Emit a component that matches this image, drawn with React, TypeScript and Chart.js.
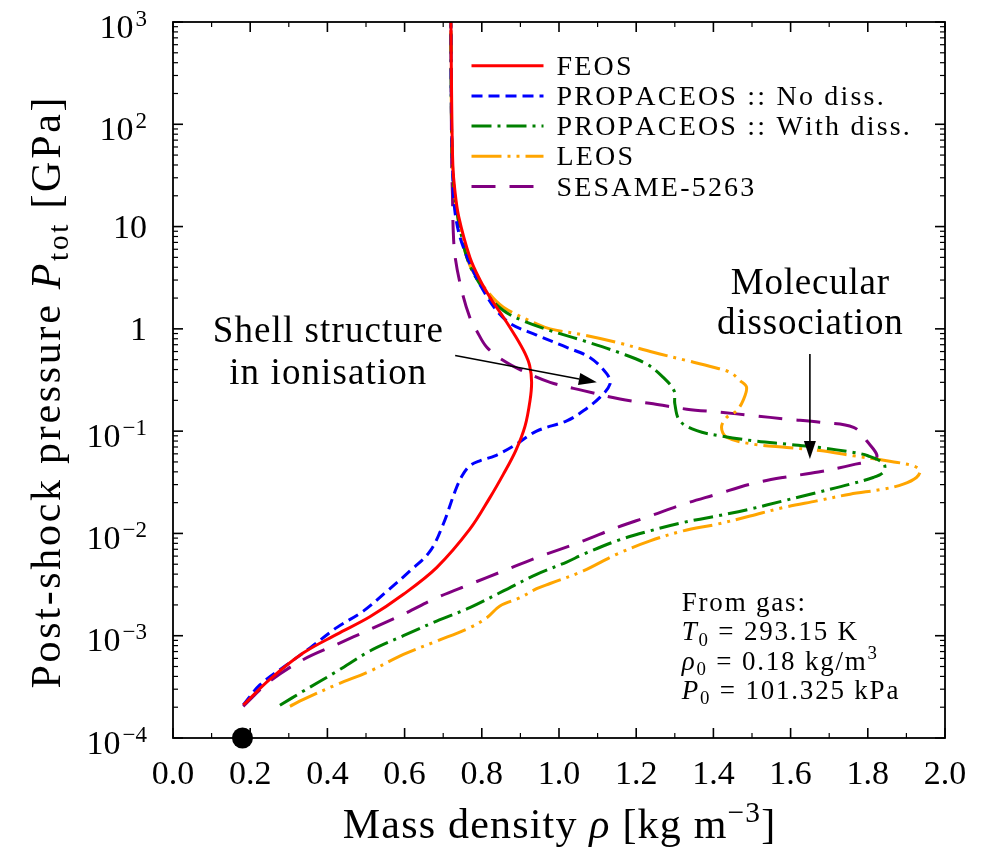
import React, { useEffect, useRef } from 'react';
import { Chart, registerables } from 'chart.js';

Chart.register(...registerables);

// ---------------- data ----------------
const seriesNames = ['FEOS', 'PROPACEOS :: No diss.', 'PROPACEOS :: With diss.', 'LEOS', 'SESAME-5263'];

// FEOS (red, solid)
const feosRho = [0.182, 0.25, 0.338, 0.424, 0.51, 0.597, 0.683, 0.769, 0.821, 0.856, 0.888, 0.912, 0.925, 0.929, 0.924, 0.912, 0.89, 0.856, 0.821, 0.795, 0.769, 0.74, 0.73, 0.725, 0.722, 0.72];
const feosP = [2.1e-4, 3.72e-4, 6.8e-4, 1.03e-3, 1.53e-3, 2.54e-3, 4.63e-3, 0.011, 0.0224, 0.038, 0.0646, 0.112, 0.2, 0.302, 0.437, 0.575, 0.813, 1.3, 2.04, 3.02, 5.01, 12.6, 22.9, 39.8, 158, 1000];

// PROPACEOS :: No diss. (blue, dashed)
const propNoRho = [0.182, 0.225, 0.295, 0.355, 0.424, 0.493, 0.553, 0.614, 0.666, 0.7, 0.731, 0.749, 0.769, 0.795, 0.834, 0.88, 0.942, 1.02, 1.063, 1.106, 1.132, 1.124, 1.08, 1.02, 0.942, 0.864, 0.804, 0.752, 0.731, 0.724, 0.721, 0.72];
const propNoP = [2.1e-4, 3.3e-4, 5.2e-4, 7.6e-4, 1.2e-3, 1.74e-3, 2.7e-3, 4.3e-3, 6.7e-3, 0.0123, 0.026, 0.0366, 0.0458, 0.0513, 0.0574, 0.0708, 0.1, 0.126, 0.158, 0.214, 0.288, 0.363, 0.525, 0.66, 0.87, 1.2, 2.37, 6.3, 13.5, 40, 160, 1000];

// PROPACEOS :: With diss. (green, dash-dot)
const propDisRho = [0.277, 0.338, 0.424, 0.51, 0.597, 0.683, 0.769, 0.856, 0.942, 1.02, 1.063, 1.149, 1.236, 1.322, 1.409, 1.495, 1.581, 1.668, 1.754, 1.814, 1.84, 1.842, 1.8, 1.763, 1.676, 1.59, 1.503, 1.417, 1.357, 1.313, 1.3, 1.298, 1.27, 1.227, 1.158, 1.063, 0.977, 0.9, 0.856, 0.813, 0.769, 0.745, 0.73, 0.724, 0.721, 0.72];
const propDisP = [2.09e-4, 2.88e-4, 4.47e-4, 7.08e-4, 1.0e-3, 1.39e-3, 1.88e-3, 2.74e-3, 3.98e-3, 5.25e-3, 6.25e-3, 8.45e-3, 0.0106, 0.0128, 0.0148, 0.0173, 0.0208, 0.0251, 0.0303, 0.0352, 0.0398, 0.0479, 0.0575, 0.0619, 0.0692, 0.0746, 0.0805, 0.0902, 0.101, 0.126, 0.185, 0.249, 0.336, 0.454, 0.582, 0.767, 0.962, 1.23, 1.51, 2.2, 4.17, 8.91, 20, 39.8, 158, 1000];

// LEOS (orange, dash-dot-dot)
const leosRho = [0.303, 0.338, 0.424, 0.51, 0.597, 0.683, 0.769, 0.813, 0.847, 0.899, 0.942, 0.977, 1.063, 1.149, 1.236, 1.322, 1.409, 1.495, 1.581, 1.668, 1.754, 1.84, 1.892, 1.926, 1.935, 1.918, 1.849, 1.763, 1.676, 1.59, 1.503, 1.434, 1.421, 1.434, 1.46, 1.477, 1.486, 1.469, 1.443, 1.4, 1.331, 1.244, 1.158, 1.063, 0.977, 0.942, 0.856, 0.813, 0.769, 0.745, 0.73, 0.724, 0.721, 0.72];
const leosP = [2.04e-4, 2.38e-4, 3.33e-4, 4.5e-4, 6.56e-4, 8.85e-4, 1.2e-3, 1.5e-3, 1.95e-3, 2.35e-3, 2.88e-3, 3.24e-3, 4.3e-3, 6.25e-3, 8.45e-3, 0.0106, 0.0123, 0.0148, 0.0179, 0.0208, 0.0242, 0.0271, 0.0303, 0.0352, 0.0409, 0.0458, 0.0513, 0.0574, 0.0646, 0.0692, 0.0746, 0.0871, 0.109, 0.136, 0.158, 0.2, 0.268, 0.312, 0.376, 0.421, 0.49, 0.59, 0.724, 0.871, 1.0, 1.12, 1.63, 2.37, 4.17, 8.91, 20, 39.8, 158, 1000];

// SESAME-5263 (purple, long dashes)
const sesameRho = [0.182, 0.251, 0.338, 0.424, 0.51, 0.597, 0.683, 0.769, 0.856, 0.942, 1.063, 1.149, 1.236, 1.322, 1.409, 1.495, 1.58, 1.672, 1.76, 1.823, 1.797, 1.763, 1.676, 1.59, 1.503, 1.417, 1.331, 1.244, 1.158, 1.063, 0.977, 0.9, 0.856, 0.813, 0.787, 0.769, 0.748, 0.731, 0.726, 0.724, 0.722, 0.721, 0.72];
const sesameP = [2.04e-4, 3.59e-4, 5.86e-4, 8.22e-4, 1.15e-3, 1.62e-3, 2.35e-3, 3.18e-3, 4.3e-3, 5.79e-3, 8.45e-3, 0.0114, 0.0148, 0.0193, 0.0242, 0.0303, 0.0352, 0.0398, 0.0468, 0.0553, 0.0805, 0.109, 0.122, 0.131, 0.142, 0.153, 0.164, 0.185, 0.206, 0.249, 0.3, 0.398, 0.49, 0.661, 0.955, 1.29, 2.37, 5.01, 9.12, 20.9, 39.8, 158, 1000];

// initial gas state (black dot)
const initialRho = [0.18];
const initialP = [1e-4];

// axes
const xMin = 0;
const xMax = 2;
const xTickStep = 0.2;
const yMin = 1e-4;
const yMax = 1e3;
const yTickValues = [1e-4, 1e-3, 1e-2, 1e-1, 1, 10, 100, 1000];
const yTickBase = ['10', '10', '10', '10', '1', '10', '10', '10'];
const yTickExp = ['−4', '−3', '−2', '−1', '', '', '2', '3'];

// annotations (data coordinates)
const shellLines = ['Shell structure', 'in ionisation'];
const shellTextAt = { x: 0.401, y: 0.74 };
const shellArrowFrom = { x: 0.731, y: 0.548 };
const shellArrowTo = { x: 1.098, y: 0.3 };
const dissLines = ['Molecular', 'dissociation'];
const dissTextAt = { x: 1.65, y: 2.2 };
const dissArrowFrom = { x: 1.65, y: 0.569 };
const dissArrowTo = { x: 1.65, y: 0.0533 };
const gasTextAt = { x: 1.318, y: 1.74e-3 };

// ---------------- styling ----------------
const SERIF = '"Liberation Serif", "Times New Roman", Times, serif';

type Part = { t: string; it?: boolean; sup?: boolean; sub?: boolean };

function drawRich(
  ctx: CanvasRenderingContext2D,
  parts: Part[],
  x: number,
  y: number,
  size: number,
  align: 'left' | 'center' | 'right',
  sp: number
) {
  const glyphs: { ch: string; font: string; dy: number; x: number }[] = [];
  let w = 0;
  for (const p of parts) {
    const s = p.sup || p.sub ? size * 0.7 : size;
    const font = `${p.it ? 'italic ' : ''}${s}px ${SERIF}`;
    ctx.font = font;
    const dy = p.sup ? -size * 0.38 : p.sub ? size * 0.2 : 0;
    for (const ch of Array.from(p.t)) {
      const cw = ctx.measureText(ch).width;
      glyphs.push({ ch, font, dy, x: w });
      w += cw + sp;
    }
  }
  w -= sp;
  const x0 = align === 'left' ? x : align === 'center' ? x - w / 2 : x - w;
  ctx.textAlign = 'left';
  ctx.textBaseline = 'alphabetic';
  for (const g of glyphs) {
    ctx.font = g.font;
    ctx.fillText(g.ch, x0 + g.x, y + g.dy);
  }
  return w;
}

function drawArrow(ctx: CanvasRenderingContext2D, x1: number, y1: number, x2: number, y2: number) {
  const ang = Math.atan2(y2 - y1, x2 - x1);
  const hl = 18;
  const hw = 6;
  const bx = x2 - hl * Math.cos(ang);
  const by = y2 - hl * Math.sin(ang);
  ctx.beginPath();
  ctx.moveTo(x1, y1);
  ctx.lineTo(bx, by);
  ctx.lineWidth = 1.6;
  ctx.strokeStyle = '#000';
  ctx.setLineDash([]);
  ctx.stroke();
  ctx.beginPath();
  ctx.moveTo(x2, y2);
  ctx.lineTo(bx + hw * Math.sin(ang), by - hw * Math.cos(ang));
  ctx.lineTo(bx - hw * Math.sin(ang), by + hw * Math.cos(ang));
  ctx.closePath();
  ctx.fillStyle = '#000';
  ctx.fill();
}

const decorPlugin = {
  id: 'decor',
  afterDatasetsDraw(chart: any) {
    const { ctx, chartArea: a, scales } = chart;
    const xs = scales.x;
    const ys = scales.y;
    ctx.save();
    ctx.setLineDash([]);
    ctx.strokeStyle = '#000';
    const seg = (x1: number, y1: number, x2: number, y2: number, lw: number) => {
      ctx.beginPath();
      ctx.lineWidth = lw;
      ctx.moveTo(x1, y1);
      ctx.lineTo(x2, y2);
      ctx.stroke();
    };
    const nx = Math.round((xMax - xMin) / (xTickStep / 2));
    for (let i = 0; i <= nx; i++) {
      const v = xMin + (i * xTickStep) / 2;
      const px = xs.getPixelForValue(v);
      const major = i % 2 === 0;
      const len = major ? 10 : 5;
      const lw = major ? 1.6 : 1.2;
      seg(px, a.bottom, px, a.bottom - len, lw);
      seg(px, a.top, px, a.top + len, lw);
    }
    for (let e = -4; e <= 3; e++) {
      for (let k = 1; k <= 9; k++) {
        const v = k * Math.pow(10, e);
        if (v > yMax * 1.0001) break;
        const py = ys.getPixelForValue(v);
        const major = k === 1;
        const len = major ? 10 : 5;
        const lw = major ? 1.6 : 1.2;
        seg(a.left, py, a.left + len, py, lw);
        seg(a.right, py, a.right - len, py, lw);
      }
    }
    ctx.lineWidth = 1.8;
    ctx.strokeRect(a.left, a.top, a.right - a.left, a.bottom - a.top);

    drawArrow(
      ctx,
      xs.getPixelForValue(shellArrowFrom.x),
      ys.getPixelForValue(shellArrowFrom.y),
      xs.getPixelForValue(shellArrowTo.x),
      ys.getPixelForValue(shellArrowTo.y)
    );
    drawArrow(
      ctx,
      xs.getPixelForValue(dissArrowFrom.x),
      ys.getPixelForValue(dissArrowFrom.y),
      xs.getPixelForValue(dissArrowTo.x),
      ys.getPixelForValue(dissArrowTo.y)
    );
    ctx.restore();
  },
  afterDraw(chart: any) {
    const { ctx, chartArea: a, scales } = chart;
    const xs = scales.x;
    const ys = scales.y;
    ctx.save();
    ctx.fillStyle = '#000';

    // y tick labels with superscripts
    const rx = a.left - 26;
    yTickValues.forEach((v, i) => {
      const py = ys.getPixelForValue(v);
      const base = yTickBase[i];
      const exp = yTickExp[i];
      if (exp) {
        ctx.font = `34px ${SERIF}`;
        const wb = ctx.measureText(base).width;
        ctx.font = `23px ${SERIF}`;
        const we = ctx.measureText(exp).width;
        const x0 = rx - (wb + 2 + we);
        const bl = py + 15.5;
        ctx.textAlign = 'left';
        ctx.textBaseline = 'alphabetic';
        ctx.font = `34px ${SERIF}`;
        ctx.fillText(base, x0, bl);
        ctx.font = `23px ${SERIF}`;
        ctx.fillText(exp, x0 + wb + 2, bl - 12);
      } else {
        ctx.textAlign = 'right';
        ctx.textBaseline = 'alphabetic';
        ctx.font = `34px ${SERIF}`;
        ctx.fillText(base, rx, py + 11.5);
      }
    });

    // axis titles
    const cx = (a.left + a.right) / 2;
    drawRich(
      ctx,
      [{ t: 'Mass density ' }, { t: 'ρ', it: true }, { t: ' [kg m' }, { t: '−3', sup: true }, { t: ']' }],
      cx,
      838,
      42,
      'center',
      1.2
    );
    ctx.save();
    ctx.translate(60, (a.top + a.bottom) / 2 + 13);
    ctx.rotate(-Math.PI / 2);
    drawRich(
      ctx,
      [{ t: 'Post-shock pressure ' }, { t: 'P', it: true }, { t: 'tot', sub: true }, { t: ' [GPa]' }],
      0,
      0,
      42,
      'center',
      2.7
    );
    ctx.restore();

    // annotation texts
    const sx = xs.getPixelForValue(shellTextAt.x);
    const sy = ys.getPixelForValue(shellTextAt.y);
    shellLines.forEach((l, i) => drawRich(ctx, [{ t: l }], sx, sy + i * 41.6, 37, 'center', 1.1));
    const dx = xs.getPixelForValue(dissTextAt.x);
    const dy = ys.getPixelForValue(dissTextAt.y);
    dissLines.forEach((l, i) => drawRich(ctx, [{ t: l }], dx, dy + i * 40, 37, 'center', 0.8));

    const gx = xs.getPixelForValue(gasTextAt.x);
    const gy = ys.getPixelForValue(gasTextAt.y);
    const gasParts: Part[][] = [
      [{ t: 'From gas:' }],
      [{ t: 'T', it: true }, { t: '0', sub: true }, { t: ' = 293.15 K' }],
      [{ t: 'ρ', it: true }, { t: '0', sub: true }, { t: ' = 0.18 kg/m' }, { t: '3', sup: true }],
      [{ t: 'P', it: true }, { t: '0', sub: true }, { t: ' = 101.325 kPa' }],
    ];
    gasParts.forEach((p, i) => drawRich(ctx, p, gx, gy + i * 29.3, 27, 'left', 1.8));

    // legend
    const lx0 = a.left + 298.5;
    const lx1 = a.left + 370.5;
    const tx = a.left + 383.5;
    const ry0 = a.top + 43.7;
    const rGap = 30.2;
    chart.data.datasets
      .filter((d: any) => d.inLegend)
      .forEach((d: any, i: number) => {
        const yy = ry0 + i * rGap;
        ctx.beginPath();
        ctx.setLineDash(d.borderDash || []);
        ctx.lineWidth = d.borderWidth;
        ctx.strokeStyle = d.borderColor;
        ctx.moveTo(lx0, yy);
        ctx.lineTo(lx1, yy);
        ctx.stroke();
        ctx.setLineDash([]);
        ctx.fillStyle = '#000';
        drawRich(ctx, [{ t: d.label }], tx, yy + 9, 28, 'left', 2.2);
      });
    ctx.restore();
  },
};

const zip = (xs: number[], ys: number[]) => xs.map((x, i) => ({ x, y: ys[i] }));

const seriesDefs = [
  { rho: feosRho, p: feosP, color: 'red', dash: [] as number[] },
  { rho: propNoRho, p: propNoP, color: 'blue', dash: [11, 6] },
  { rho: propDisRho, p: propDisP, color: 'green', dash: [20, 6, 3, 6] },
  { rho: leosRho, p: leosP, color: 'orange', dash: [30, 6, 3, 6, 3, 6] },
  { rho: sesameRho, p: sesameP, color: 'purple', dash: [24, 14] },
];

export default function App() {
  const ref = useRef<HTMLCanvasElement>(null);
  useEffect(() => {
    if (!ref.current) return;
    const datasets: any[] = seriesDefs.map((s, i) => ({
      label: seriesNames[i],
      inLegend: true,
      data: zip(s.rho, s.p),
      showLine: true,
      borderColor: s.color,
      backgroundColor: s.color,
      borderWidth: 3,
      borderDash: s.dash,
      pointRadius: 0,
      tension: 0.35,
      fill: false,
    }));
    datasets.push({
      label: 'Initial state',
      inLegend: false,
      data: zip(initialRho, initialP),
      showLine: false,
      pointRadius: 10.5,
      pointBackgroundColor: '#000',
      pointBorderWidth: 0,
      borderColor: '#000',
      clip: false,
    });
    const chart = new Chart(ref.current, {
      type: 'scatter',
      data: { datasets },
      options: {
        responsive: false,
        animation: false,
        events: [],
        layout: { padding: { top: 22, right: 41, left: 0, bottom: 0 } },
        plugins: { legend: { display: false }, tooltip: { enabled: false } },
        scales: {
          x: {
            type: 'linear',
            min: xMin,
            max: xMax,
            grid: { display: false, drawTicks: false },
            border: { display: false },
            ticks: {
              stepSize: xTickStep,
              autoSkip: false,
              maxRotation: 0,
              padding: 17,
              color: '#000',
              font: { family: SERIF, size: 34 },
              callback: (v: any) => Number(v).toFixed(1),
            },
            afterFit: (s: any) => {
              s.height = 111;
            },
          },
          y: {
            type: 'logarithmic',
            min: yMin,
            max: yMax,
            grid: { display: false, drawTicks: false },
            border: { display: false },
            ticks: { display: false },
            afterFit: (s: any) => {
              s.width = 173;
            },
          },
        },
      } as any,
      plugins: [decorPlugin],
    });
    return () => chart.destroy();
  }, []);
  return (
    <div style={{ position: 'absolute', left: 0, top: 0, width: 986, height: 849, background: '#fff' }}>
      <canvas ref={ref} width={986} height={849} style={{ display: 'block', width: 986, height: 849 }} />
    </div>
  );
}
